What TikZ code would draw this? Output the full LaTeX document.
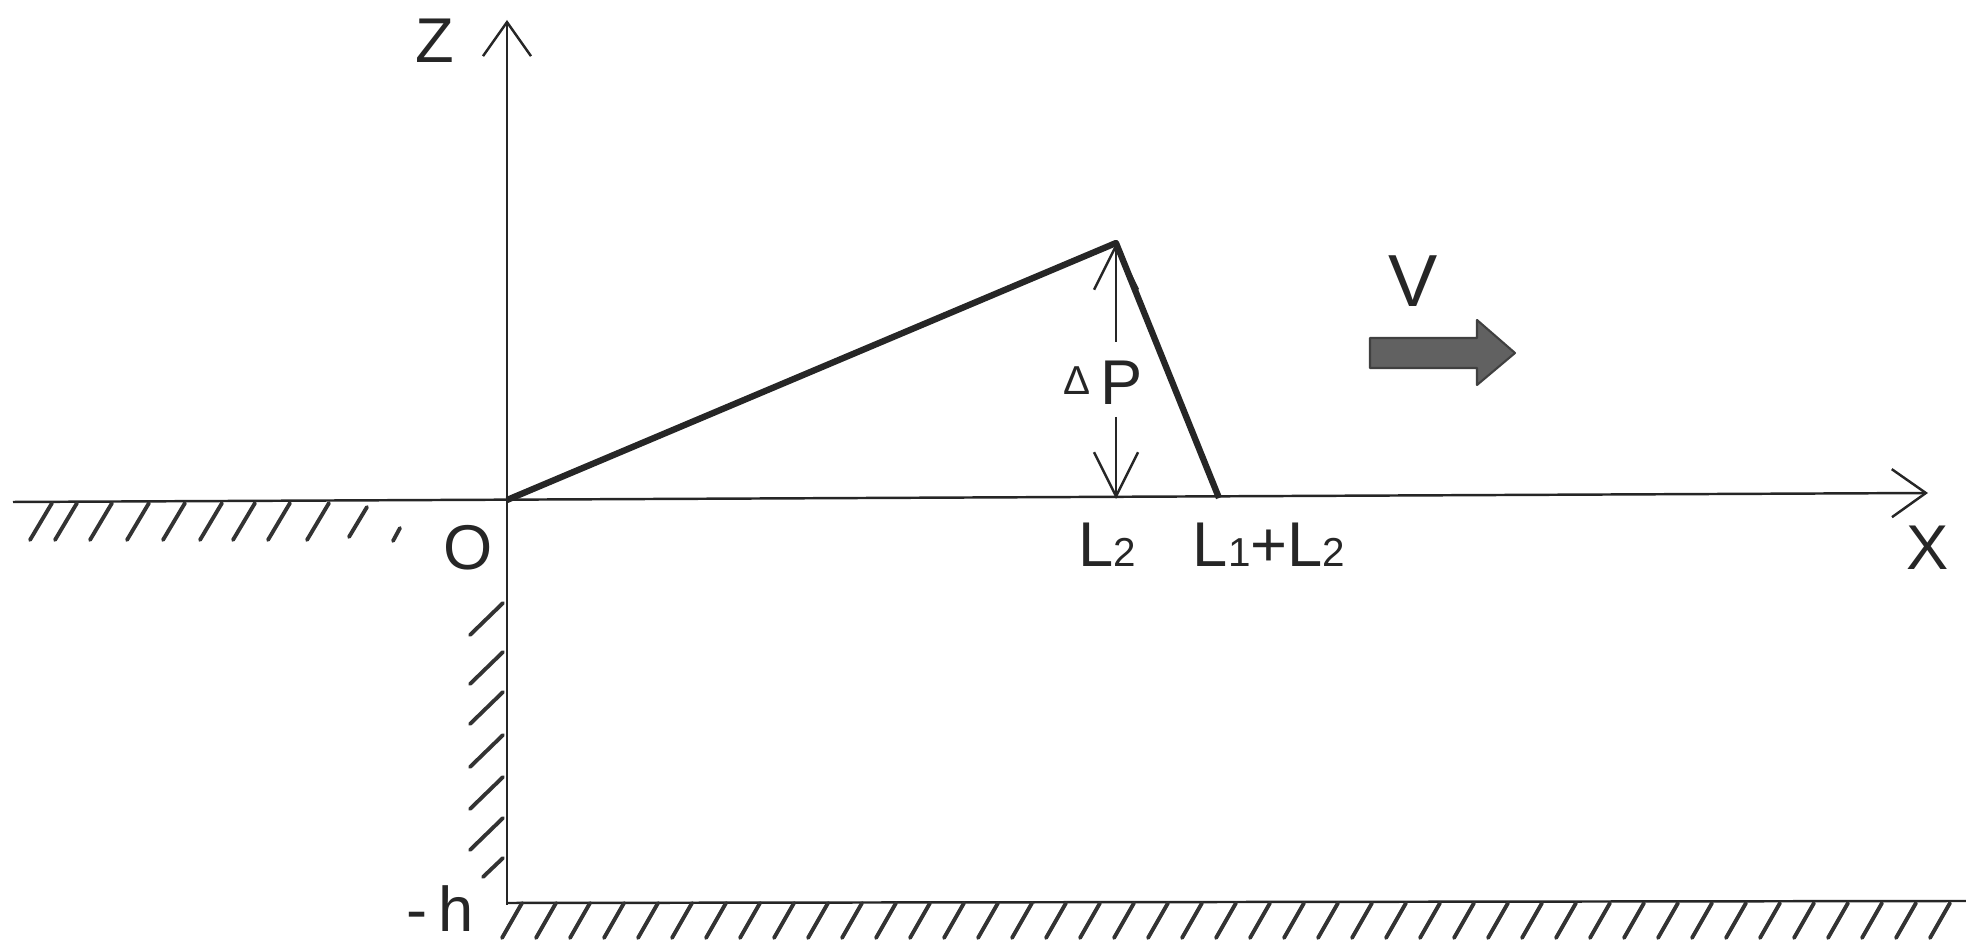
\documentclass[tikz,border=0pt]{standalone}
\usepackage{fontspec}
\setmainfont{Liberation Sans}
\usetikzlibrary{arrows.meta}
\begin{document}
\begin{tikzpicture}[x=0.1mm,y=-0.1mm,
  axis/.style={line width=0.7pt, draw=black!85},
  wave/.style={line width=1.8pt, draw=black!85, line join=round},
  hatch/.style={line width=1.1pt, draw=black!80, line cap=round},
  barb/.style={-{Straight Barb[length=3.4mm,width=4.8mm,line width=0.7pt]}},
  dpbarb/.style={-{Straight Barb[length=4.4mm,width=4.4mm,line width=0.7pt]}},
  lbl/.style={inner sep=0pt, text=black!85, font=\fontsize{18}{20}\selectfont}
]
\newcommand{\sbs}[1]{{\fontsize{11.5}{12}\selectfont #1}}
\useasboundingbox (0,0) rectangle (1966,947);

% coordinates
\coordinate (xstart) at (13,502);
\coordinate (xend) at (1928,493);
\coordinate (O) at (507,500);
\coordinate (zbot) at (507,905);
\coordinate (zend) at (507,20);
\coordinate (apex) at (1116,243);
\coordinate (R) at (1219,498);
\coordinate (base) at (1116,499);
\coordinate (dptop) at (1116,342);
\coordinate (dpbot) at (1116,417);
\coordinate (bl) at (507,903);
\coordinate (br) at (1966,901);

% axes
\draw[axis,barb] (xstart) -- (xend);
\draw[axis,barb] (zbot) -- (zend);
\draw[axis] (bl) -- (br);

% left ground hatches
\foreach \x in {52,77,112,149,185,222,255,290,329}
  \draw[hatch] (\x,503) -- (\x-22,540);
\draw[hatch] (367,507) -- (349,537);
\draw[hatch] (400,528) -- (393,541);

% wall hatches
\foreach \y in {603,652,692,735,777,818}
  \draw[hatch] (503,\y) -- (470,\y+32);
\draw[hatch] (503,858) -- (483,877);

% bottom hatches
\foreach \i in {0,...,42}
  \draw[hatch] ({522+\i*34},903) -- ({502+\i*34},938);

% pressure profile
\draw[wave] (O) -- (apex) -- (R);

% Delta P label and arrows
\node[lbl] (dp) at (1103,383) {\raisebox{1mm}{\fontsize{11.5}{12}\selectfont Δ}\,P};
\draw[axis,dpbarb] (dptop) -- (apex);
\draw[axis,dpbarb] (dpbot) -- (base);

% V arrow
\draw[fill=black!62, draw=black!75, line width=0.6pt, line join=round]
  (1370,338) -- (1477,338) -- (1477,320) -- (1515,353) -- (1477,385) -- (1477,368) -- (1370,368) -- cycle;
\node[lbl, font=\fontsize{21}{24}\selectfont, anchor=base] (V) at (1413,307) {V};

% labels
\node[lbl, anchor=base] (Z) at (435,63) {Z};
\node[lbl, anchor=base] (Olbl) at (468,570) {O};
\node[lbl, anchor=base] (X) at (1928,570) {X};
\node[lbl, anchor=base] (L2) at (1107,567) {L\sbs{2}};
\node[lbl, anchor=base] (L1L2) at (1269,567) {L\sbs{1}+L\sbs{2}};
\node[lbl, anchor=base] (h) at (440,932) {-\,h};
\end{tikzpicture}
\end{document}
